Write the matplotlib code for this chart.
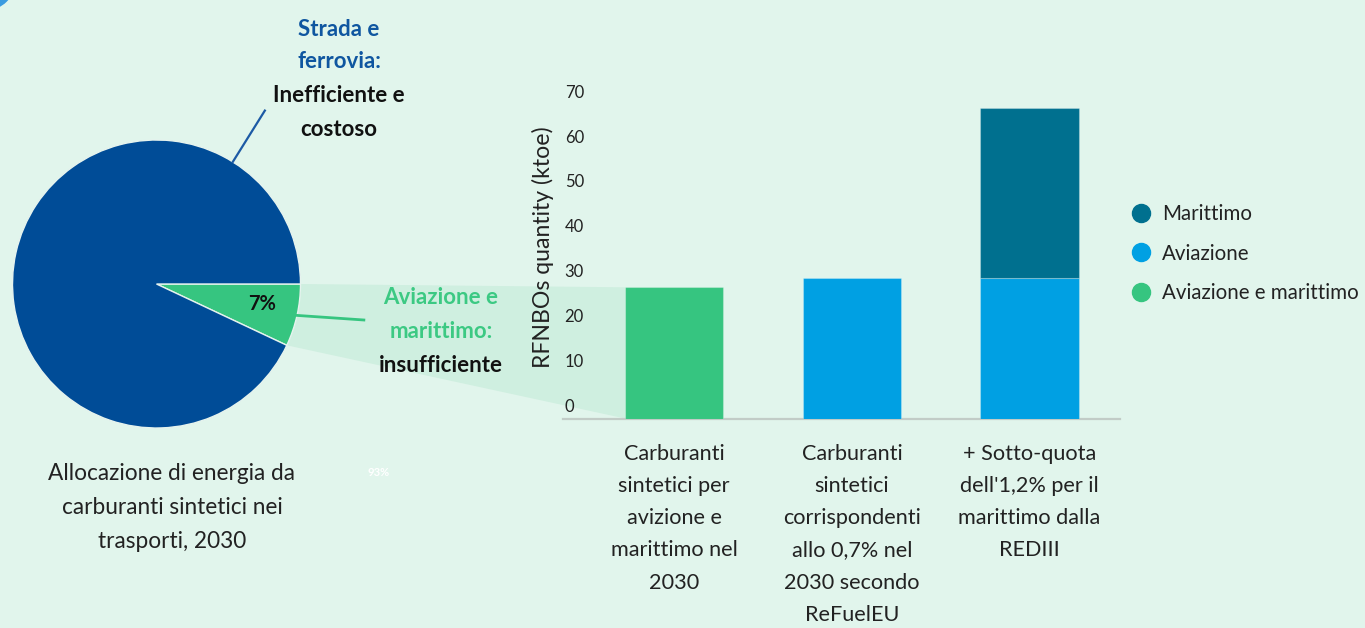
import numpy as np
import matplotlib
matplotlib.use("Agg")
import matplotlib.pyplot as plt
from matplotlib.patches import Polygon, Circle
from matplotlib.lines import Line2D
from matplotlib.transforms import IdentityTransform, ScaledTranslation, blended_transform_factory

# ---------------- data ----------------
pie_labels = ["Aviazione e marittimo", "Strada e ferrovia"]
pie_values = [7, 93]

categories = [
    "Carburanti\nsintetici per\navizione e\nmarittimo nel\n2030",
    "Carburanti\nsintetici\ncorrispondenti\nallo 0,7% nel\n2030 secondo\nReFuelEU",
    "+ Sotto-quota\ndell'1,2% per il\nmarittimo dalla\nREDIII",
]
aviazione_marittimo = [29.25, 0.0, 0.0]
aviazione = [0.0, 31.25, 31.25]
marittimo = [0.0, 0.0, 37.9]
series_names = ["Marittimo", "Aviazione", "Aviazione e marittimo"]
y_ticks = [0, 10, 20, 30, 40, 50, 60, 70]

# ---------------- style ----------------
BG = "#e1f5ec"
PIE_BLUE = "#004c97"
GREEN = "#36c580"
AVI = "#00a0e3"
MAR = "#00708f"
SHADE = "#cfefe0"
TXT = "#222222"
FONT = "Lato"

plt.rcParams["font.family"] = [FONT, "DejaVu Sans"]

W, H = 1365, 628
fig = plt.figure(figsize=(W / 100, H / 100), dpi=100)
fig.patch.set_facecolor(BG)


def fx(x):
    return x / W


def fy(y):
    return 1 - y / H


# ---------------- pie ----------------
cx, cy, r = 156.5, 284.0, 144.0
ax_pie = fig.add_axes([fx(cx - r), fy(cy + r), 2 * r / W, 2 * r / H])
ax_pie.patch.set_visible(False)
wedges, _ = ax_pie.pie(
    pie_values,
    colors=[GREEN, PIE_BLUE],
    startangle=0,
    counterclock=False,
    radius=1.0,
    wedgeprops=dict(edgecolor="#e6f3ee", linewidth=1.0),
)
ax_pie.set_xlim(-1, 1)
ax_pie.set_ylim(-1, 1)
ax_pie.set_aspect("equal")
ax_pie.axis("off")
for w in wedges:
    w.set_clip_on(False)

green_end = -360.0 * pie_values[0] / sum(pie_values)
mid_green = np.deg2rad(green_end / 2)

# connector lines
a = np.deg2rad(58)
ax_pie.plot([np.cos(a), 1.42 * np.cos(a)], [np.sin(a), 1.42 * np.sin(a)],
            color="#1d5aa5", lw=1.6, clip_on=False)
ax_pie.plot([np.cos(mid_green), 1.44], [np.sin(mid_green), -0.25],
            color=GREEN, lw=2.0, clip_on=False)

# ---------------- bars ----------------
ax = fig.add_axes([fx(563), fy(418.5), (1120 - 563) / W, 314 / H])
ax.patch.set_visible(False)
x = np.arange(len(categories))
bw = 0.554


def draw(vals, color, bottom=None):
    vals = np.asarray(vals, float)
    b = np.zeros_like(vals) if bottom is None else np.asarray(bottom, float)
    m = vals > 0
    ax.bar(x[m], vals[m], bw, bottom=b[m], color=color,
           edgecolor=(1, 1, 1, 0.25), linewidth=0.8, zorder=3)


draw(aviazione_marittimo, GREEN)
draw(aviazione, AVI)
draw(marittimo, MAR, bottom=aviazione)

ax.set_xlim(-0.626, 2.509)
ax.set_ylim(0, 70)
for s in ["top", "right", "left"]:
    ax.spines[s].set_visible(False)
ax.spines["bottom"].set_color("#c2ccc7")
ax.spines["bottom"].set_linewidth(1.6)
ax.set_yticks([])
ax.set_xticks(x)
ax.set_xticklabels(categories, fontsize=15.6, color=TXT, linespacing=1.77,
                   va="top")
ax.tick_params(axis="x", length=0, pad=18)

off = ScaledTranslation(0, 11.8 / 100, fig.dpi_scale_trans)
btr = blended_transform_factory(ax.transAxes, ax.transData)
for v in y_ticks:
    ax.text(0.003, v, str(v), transform=btr + off, ha="left", va="center",
            fontsize=12, color=TXT)

fig.text(fx(543), fy(247), "RFNBOs quantity (ktoe)", rotation=90,
         ha="center", va="center", fontsize=16.6, color=TXT)

# legend
handles = [Line2D([], [], marker="o", ls="", markersize=13, color=c)
           for c in [MAR, AVI, GREEN]]
fig.legend(handles, series_names, loc="upper left",
           bbox_to_anchor=(fx(1131), fy(204)), frameon=False, fontsize=14.8,
           handlelength=1.0, handletextpad=0.5, labelspacing=0.95,
           borderpad=0, borderaxespad=0, labelcolor=TXT)

# ---------------- shaded projection ----------------
ang = np.deg2rad(green_end)
p1 = ax_pie.transData.transform((1.0, 0.0))
p2 = ax_pie.transData.transform((np.cos(ang), np.sin(ang)))
q1 = ax.transData.transform((x[0] - bw / 2, aviazione_marittimo[0]))
q2 = ax.transData.transform((x[0] - bw / 2, 0.0))
poly = Polygon([p1, q1, q2, p2], closed=True, facecolor=SHADE,
               edgecolor="none", transform=IdentityTransform(), zorder=-1)
fig.add_artist(poly)

# corner decoration
fig.add_artist(Circle((-15, H + 20), 30, transform=IdentityTransform(),
                      color="#3a9be0", zorder=-1))

# ---------------- texts ----------------
def t(xp, yp, s, **kw):
    kw.setdefault("ha", "center")
    kw.setdefault("va", "center")
    fig.text(fx(xp), fy(yp), s, **kw)


BFS = 16
t(339, 29, "Strada e", fontsize=BFS, fontweight="bold", color="#0f56a0")
t(339, 62, "ferrovia:", fontsize=BFS, fontweight="bold", color="#0f56a0")
t(339, 96, "Inefficiente e", fontsize=BFS, fontweight="bold", color="#111111")
t(339, 129, "costoso", fontsize=BFS, fontweight="bold", color="#111111")

t(441, 298, "Aviazione e", fontsize=BFS, fontweight="bold", color="#3cc983")
t(441, 331, "marittimo:", fontsize=BFS, fontweight="bold", color="#3cc983")
t(441, 365, "insufficiente", fontsize=BFS, fontweight="bold", color="#111111")

t(262, 304, "7%", fontsize=14.5, fontweight="bold", color="#111111")
t(379, 473, "93%", fontsize=8, fontweight="bold", color="white")

t(172, 473, "Allocazione di energia da", fontsize=16.3, color=TXT)
t(172, 507, "carburanti sintetici nei", fontsize=16.3, color=TXT)
t(172, 541, "trasporti, 2030", fontsize=16.3, color=TXT)

fig.savefig("out.png", dpi=100, facecolor=BG)
